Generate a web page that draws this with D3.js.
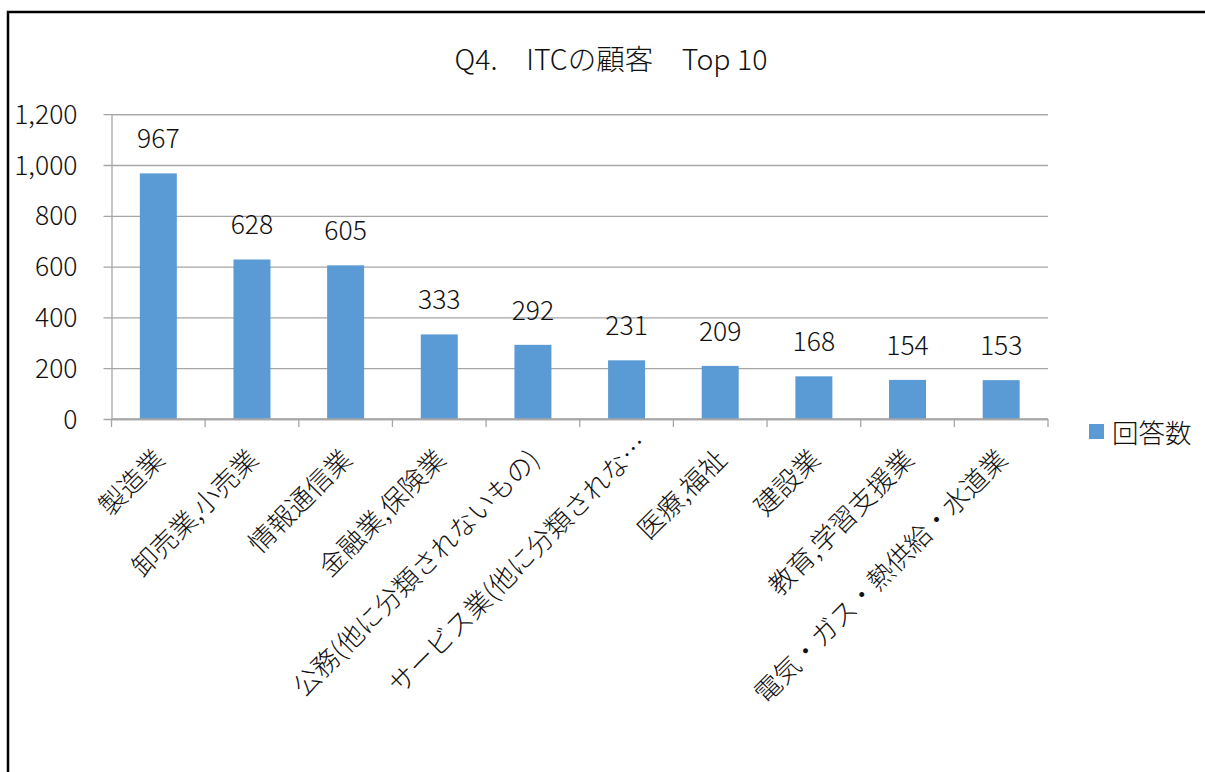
<!DOCTYPE html>
<html>
<head>
<meta charset="utf-8">
<script src="https://cdn.jsdelivr.net/npm/d3@7"></script>
<style>
  html, body { margin: 0; padding: 0; background: #fff; }
  svg { display: block; }
  text { font-family: "Noto Sans CJK JP", "Noto Sans", sans-serif; font-weight: 300; fill: #111; }
</style>
</head>
<body>
<svg id="chart" width="1205" height="772"></svg>
<script>
// Industries of ITC clients, top 10 by number of responses
const categories = [
  "製造業",
  "卸売業,小売業",
  "情報通信業",
  "金融業,保険業",
  "公務(他に分類されないもの)",
  "サービス業(他に分類されな…",
  "医療,福祉",
  "建設業",
  "教育,学習支援業",
  "電気・ガス・熱供給・水道業"
];
const responses = [967, 628, 605, 333, 292, 231, 209, 168, 154, 153];
const yTicks = [0, 200, 400, 600, 800, 1000, 1200];
const titleText = "Q4.\u3000ITCの顧客\u3000Top 10";
const seriesName = "回答数";

const svg = d3.select("#chart");
const barColor = "#5b9bd5";
const gridColor = "#a6a6a6";
const labelSize = "26.5px";

// outer frame
svg.append("rect")
  .attr("x", 8).attr("y", 12)
  .attr("width", 1400).attr("height", 1000)
  .attr("fill", "none").attr("stroke", "#000").attr("stroke-width", 2.5);

const plot = { left: 111.5, right: 1048, top: 114.2, bottom: 419 };

const x = d3.scaleBand()
  .domain(categories)
  .range([plot.left, plot.right])
  .paddingInner(0.605)
  .paddingOuter(0.3025);

const y = d3.scaleLinear()
  .domain([0, 1200])
  .range([plot.bottom, plot.top]);

// title
svg.append("text")
  .attr("x", 611).attr("y", 57)
  .attr("text-anchor", "middle")
  .attr("dominant-baseline", "central")
  .style("font-size", "28.5px")
  .text(titleText);

// horizontal gridlines + y labels
const yAxis = d3.axisLeft(y)
  .tickValues(yTicks)
  .tickFormat(d3.format(","))
  .tickSize(-(plot.right - plot.left))
  .tickPadding(0);

const gy = svg.append("g")
  .attr("transform", `translate(${plot.left},0)`)
  .call(yAxis);
gy.attr("font-family", null).attr("font-size", null);
gy.select(".domain").attr("stroke", gridColor).attr("stroke-width", 1.3);
gy.selectAll(".tick line")
  .attr("stroke", gridColor).attr("stroke-width", 1.3)
  .attr("x1", -8);
gy.selectAll(".tick text")
  .attr("x", -34)
  .attr("dy", "0.34em")
  .style("font-size", labelSize)
  .attr("fill", "#111");

// bars
svg.append("g").selectAll("rect")
  .data(responses)
  .join("rect")
  .attr("x", (d, i) => x(categories[i]))
  .attr("y", d => y(d))
  .attr("width", x.bandwidth())
  .attr("height", d => y(0) - y(d))
  .attr("fill", barColor);

// value labels
svg.append("g").selectAll("text")
  .data(responses)
  .join("text")
  .attr("x", (d, i) => x(categories[i]) + x.bandwidth() / 2)
  .attr("y", d => y(d) - 25)
  .attr("text-anchor", "middle")
  .style("font-size", labelSize)
  .text(d => d);

// category axis with ticks at band boundaries
const step = x.step();
const boundaries = d3.range(categories.length + 1).map(i => plot.left + i * step);
const gx = svg.append("g");
gx.append("line")
  .attr("x1", plot.left).attr("x2", plot.right)
  .attr("y1", plot.bottom).attr("y2", plot.bottom)
  .attr("stroke", gridColor).attr("stroke-width", 1.3);
gx.selectAll("line.tk")
  .data(boundaries)
  .join("line")
  .attr("class", "tk")
  .attr("x1", d => d).attr("x2", d => d)
  .attr("y1", plot.bottom).attr("y2", plot.bottom + 8)
  .attr("stroke", gridColor).attr("stroke-width", 1.3);

// width of a trailing ellipsis, so truncated labels keep their text end at the tick
const probe = svg.append("text").style("font-size", labelSize).text("…");
const ellipsisW = probe.node().getComputedTextLength() * 0.8;
probe.remove();

gx.selectAll("text")
  .data(categories)
  .join("text")
  .attr("transform", d => `translate(${x(d) + x.bandwidth() / 2},453) rotate(-45)`)
  .attr("x", d => d.endsWith("…") ? ellipsisW : 0)
  .attr("text-anchor", "end")
  .attr("dominant-baseline", "central")
  .style("font-size", labelSize)
  .text(d => d);

// legend
const lg = svg.append("g").attr("transform", "translate(1089,424)");
lg.append("rect").attr("width", 15).attr("height", 15).attr("fill", barColor);
lg.append("text")
  .attr("x", 23).attr("y", 7.5)
  .attr("dominant-baseline", "central")
  .style("font-size", labelSize)
  .text(seriesName);
</script>
</body>
</html>
